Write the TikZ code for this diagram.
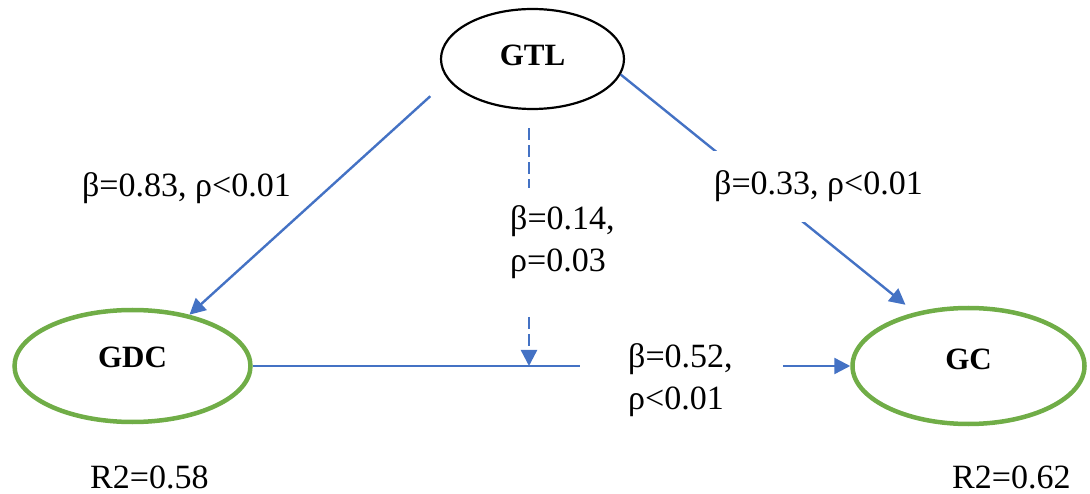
\documentclass[tikz,border=0pt]{standalone}
\usepackage{fontspec}
\setmainfont{Liberation Serif}
\usetikzlibrary{shapes.geometric,arrows.meta}
\definecolor{lineblue}{HTML}{4472C4}
\definecolor{ellgreen}{HTML}{70AD47}
\begin{document}
\begin{tikzpicture}[x=1pt,y=-1pt,
  latent/.style={ellipse, draw, inner sep=0pt, font=\fontsize{31}{36}\selectfont\bfseries},
  blk/.style={latent, draw=black, line width=2.2pt},
  grn/.style={latent, draw=ellgreen, line width=4.5pt},
  arr/.style={draw=lineblue, line width=2.4pt, -{Triangle[length=16pt,width=16pt]}},
  darr/.style={arr, dash pattern=on 12pt off 5pt},
  lbl/.style={font=\fontsize{34}{42}\selectfont, inner sep=0pt, align=left}
]
\useasboundingbox (0,0) rectangle (1090,494);
% latent variables
\node[blk, minimum width=183pt, minimum height=100pt, text depth=8pt] (GTL) at (532.5,59) {GTL};
\node[grn, minimum width=236pt, minimum height=112pt, text depth=17pt] (GDC) at (132.5,366) {GDC};
\node[grn, minimum width=232pt, minimum height=116pt, text depth=14pt] (GC) at (968.5,366) {GC};
% labels
\node[lbl, anchor=base] (l1) at (186.5,197) {β=0.83, ρ<0.01};
\node[lbl, anchor=west] (l3) at (510,242) {β=0.14,\\ρ=0.03};
\node[lbl, anchor=west] (l4) at (628,380) {β=0.52,\\ρ<0.01};
\coordinate (m) at (529,366);
% paths
\draw[arr, shorten <=24pt] (GTL.194) -- (GDC.42);
\draw[arr, shorten >=12pt] (GTL.350) -- (GC.135);
\node[lbl, anchor=base, fill=white, inner ysep=20pt, inner xsep=2pt] (l2) at (818.5,195) {β=0.33, ρ<0.01};
\draw[darr, -, shorten <=18pt, shorten >=17pt] (GTL.south -| m) -- (l3.north -| m);
\draw[darr, shorten <=38pt] (l3.south -| m) -- (m);
\draw[arr, -, shorten >=48pt] (GDC.east) -- (l4.west |- GDC.east);
\draw[arr, shorten <=50pt] (l4.east |- GC.west) -- (GC.west);
% R squared
\node[lbl, anchor=base west] (r1) at (90,488) {R2=0.58};
\node[lbl, anchor=base west] (r2) at (952,488) {R2=0.62};
\end{tikzpicture}
\end{document}
